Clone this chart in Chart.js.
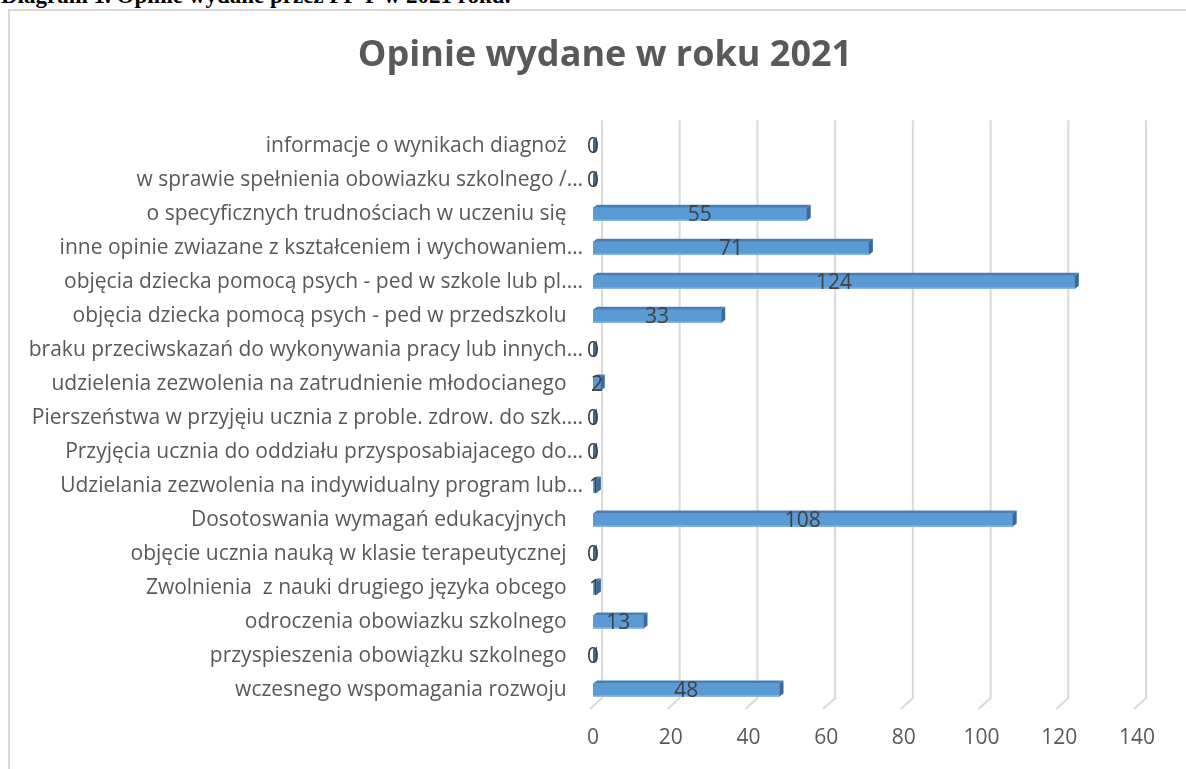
<!DOCTYPE html>
<html lang="pl">
<head>
<meta charset="utf-8">
<title>Opinie wydane w roku 2021</title>
<script src="https://cdn.jsdelivr.net/npm/chart.js@4.4.1/dist/chart.umd.min.js"></script>
<style>
  html, body {
    margin: 0;
    padding: 0;
    width: 1186px;
    height: 769px;
    overflow: hidden;
    background: #fff;
  }
  .heading {
    position: absolute;
    left: 1px;
    top: -16px;
    font-family: "Liberation Serif", "Times New Roman", serif;
    font-weight: bold;
    font-size: 23px;
    line-height: 1;
    color: #000;
    white-space: nowrap;
  }
  #opinionsChart {
    position: absolute;
    left: 0;
    top: 0;
  }
  .chart-frame {
    position: absolute;
    left: 8px;
    top: 9px;
    width: 1200px;
    height: 800px;
    border: 2px solid #d9d9d9;
    pointer-events: none;
  }
</style>
</head>
<body>
<div class="heading">Diagram 1. Opinie wydane przez PP-P w 2021 roku.</div>
<canvas id="opinionsChart" width="1186" height="769"></canvas>
<div class="chart-frame"></div>

<script>
// Data
const categories = [
  'informacje o wynikach diagnoż   ',
  'w sprawie spełnienia obowiazku szkolnego /…',
  'o specyficznych trudnościach w uczeniu się   ',
  'inne opinie zwiazane z kształceniem i wychowaniem…',
  'objęcia dziecka pomocą psych - ped w szkole lub pl.…',
  'objęcia dziecka pomocą psych - ped w przedszkolu   ',
  'braku przeciwskazań do wykonywania pracy lub innych…',
  'udzielenia zezwolenia na zatrudnienie młodocianego   ',
  'Pierszeństwa w przyjęiu ucznia z proble. zdrow. do szk.…',
  'Przyjęcia ucznia do oddziału przysposabiajacego do…',
  'Udzielania zezwolenia na indywidualny program lub…',
  'Dosotoswania wymagań edukacyjnych   ',
  'objęcie ucznia nauką w klasie terapeutycznej   ',
  'Zwolnienia  z nauki drugiego języka obcego   ',
  'odroczenia obowiazku szkolnego   ',
  'przyspieszenia obowiązku szkolnego   ',
  'wczesnego wspomagania rozwoju   '
];
const opinionCounts = [0, 0, 55, 71, 124, 33, 0, 2, 0, 0, 1, 108, 0, 1, 13, 0, 48];
const xTickValues = [0, 20, 40, 60, 80, 100, 120, 140];

const FONT = '"Open Sans", "Noto Sans", sans-serif';
const BAR_FRONT = '#5b9bd5';
const BAR_TOP = '#4a7fb5';
const BAR_SIDE = '#3c6a96';

// Query Selectors
const canvas = document.querySelector('#opinionsChart');

// Plugins
// back wall gridlines with the short slanted floor segment at the bottom
const wallGrid = {
  id: 'wallGrid',
  beforeDatasetsDraw(chart) {
    const ctx = chart.ctx;
    const xs = chart.scales.x;
    const { top, bottom } = chart.chartArea;
    ctx.save();
    ctx.strokeStyle = '#d9d9d9';
    ctx.lineWidth = 2;
    xTickValues.forEach(v => {
      const front = xs.getPixelForValue(v) - 3;
      const back = front + 12;
      ctx.beginPath();
      ctx.moveTo(back, top - 9);
      ctx.lineTo(back, bottom - 9);
      ctx.lineTo(front, bottom + 2);
      ctx.stroke();
    });
    ctx.restore();
  }
};

// top + side faces of every bar, then the value in the middle of it
const bars3d = {
  id: 'bars3d',
  afterDatasetsDraw(chart) {
    const ctx = chart.ctx;
    const meta = chart.getDatasetMeta(0);
    const dx = 4;
    const dy = 3;
    ctx.save();
    meta.data.forEach((bar, i) => {
      const { x, y, base, height } = bar.getProps(['x', 'y', 'base', 'height'], true);
      const t = y - height / 2;
      const b = y + height / 2;

      ctx.fillStyle = BAR_TOP;
      ctx.beginPath();
      ctx.moveTo(base, t);
      ctx.lineTo(base + dx, t - dy);
      ctx.lineTo(x + dx, t - dy);
      ctx.lineTo(x, t);
      ctx.closePath();
      ctx.fill();

      ctx.fillStyle = BAR_SIDE;
      ctx.beginPath();
      ctx.moveTo(x, t);
      ctx.lineTo(x + dx, t - dy);
      ctx.lineTo(x + dx, b - dy);
      ctx.lineTo(x, b);
      ctx.closePath();
      ctx.fill();

      if (x - base > 1) {
        ctx.fillStyle = '#9cc2e8';
        ctx.fillRect(base, b - 1, x - base, 1);
      }

      ctx.fillStyle = '#404040';
      ctx.font = '21px ' + FONT;
      ctx.textAlign = 'center';
      ctx.textBaseline = 'middle';
      ctx.fillText(String(opinionCounts[i]), (base + x) / 2, y + 1);
    });
    ctx.restore();
  }
};

// Chart
function renderOpinionsChart() {
  new Chart(canvas, {
    type: 'bar',
    data: {
      labels: categories,
      datasets: [{
        data: opinionCounts,
        backgroundColor: BAR_FRONT,
        borderWidth: 0,
        barThickness: 13
      }]
    },
    options: {
      indexAxis: 'y',
      responsive: false,
      animation: false,
      layout: {
        padding: { left: 24, right: 0, top: 0, bottom: 0 }
      },
      plugins: {
        legend: { display: false },
        tooltip: { enabled: false },
        title: {
          display: true,
          text: 'Opinie wydane w roku 2021',
          color: '#595959',
          font: { family: FONT, size: 36, weight: 'bold' },
          padding: { top: 34, bottom: 52 }
        }
      },
      scales: {
        x: {
          min: 0,
          max: 140,
          ticks: {
            stepSize: 20,
            color: '#595959',
            font: { family: FONT, size: 21 },
            padding: 18
          },
          grid: { display: false, drawTicks: false },
          border: { display: false },
          afterFit(scale) { scale.height = 62; }
        },
        y: {
          ticks: {
            autoSkip: false,
            color: '#595959',
            font: { family: FONT, size: 21 },
            padding: 10
          },
          grid: { display: false, drawTicks: false },
          border: { display: false },
          afterFit(scale) { scale.width = 569; }
        },
        // empty strip on the right so the plot stops short of the frame
        // while the title stays centred
        rightGap: {
          type: 'linear',
          position: 'right',
          min: 0,
          max: 1,
          ticks: { display: false },
          grid: { display: false, drawTicks: false },
          border: { display: false },
          afterFit(scale) { scale.width = 49; }
        }
      }
    },
    plugins: [wallGrid, bars3d]
  });
}

window.addEventListener('load', renderOpinionsChart);
</script>
</body>
</html>
